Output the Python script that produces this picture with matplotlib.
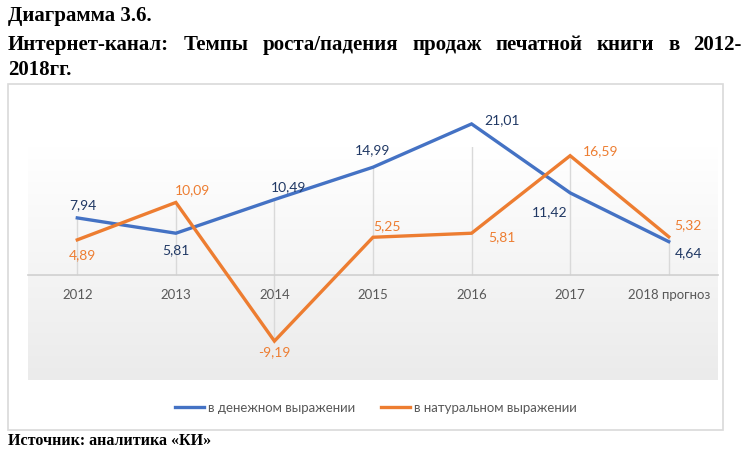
import numpy as np
import matplotlib
matplotlib.use("Agg")
import matplotlib.pyplot as plt
from matplotlib.patches import Rectangle
from matplotlib.colors import LinearSegmentedColormap

# === DATA ===
categories = ["2012", "2013", "2014", "2015", "2016", "2017", "2018 прогноз"]
money = [7.94, 5.81, 10.49, 14.99, 21.01, 11.42, 4.64]
natural = [4.89, 10.09, -9.19, 5.25, 5.81, 16.59, 5.32]
money_name = "в денежном выражении"
natural_name = "в натуральном выражении"

# label offsets (points) for each data label
money_off = [(4, 9), (0, -12), (10, 9), (0, 12), (22, 3), (-15, -14), (14, -8)]
natural_off = [(4, -11), (12, 9), (0, -8), (10, 8), (22, -3), (22, 3), (14, 8)]

BLUE = "#4472c4"
ORANGE = "#ed7d31"
NAVY = "#203864"
GRAY = "#595959"

plt.rcParams["font.family"] = ["Lato", "DejaVu Sans"]

fig = plt.figure(figsize=(7.5, 4.53), dpi=100)
W, H = 750, 453

# chart frame
fig.patches.append(Rectangle((8 / W, 1 - 430 / H), 715 / W, 346 / H,
                             transform=fig.transFigure, fill=False,
                             edgecolor="#d9d9d9", linewidth=1.2))

ax = fig.add_axes([28 / W, 1 - 380 / H, 690 / W, 233 / H])
x = np.arange(len(categories))
ax.set_xlim(-0.5, len(categories) - 0.5)
ax.set_ylim(-14.6, 17.8)

# gradient plot-area background
cmap = LinearSegmentedColormap.from_list("bg", ["#ffffff", "#ebebeb"])
grad = np.linspace(0, 1, 256).reshape(-1, 1)
ax.imshow(grad, cmap=cmap, aspect="auto", extent=[0, 1, 0, 1],
          transform=ax.transAxes, zorder=0, origin="upper")

for s in ["top", "right", "left"]:
    ax.spines[s].set_visible(False)
ax.spines["bottom"].set_position(("data", 0))
ax.spines["bottom"].set_color("#d0d0d0")
ax.spines["bottom"].set_linewidth(1.2)
ax.set_yticks([])
ax.set_xticks(x)
ax.set_xticklabels(categories, color=GRAY, fontsize=9.5)
ax.tick_params(axis="x", length=0, pad=10)

# drop lines
for i in range(len(x)):
    top = max(money[i], natural[i], 0)
    bot = min(money[i], natural[i], 0)
    ax.vlines(x[i], bot, top, color="#d9d9d9", linewidth=1, zorder=1)

ax.plot(x, money, color=BLUE, linewidth=2.4, label=money_name,
        clip_on=False, zorder=3, solid_joinstyle="miter")
ax.plot(x, natural, color=ORANGE, linewidth=2.4, label=natural_name,
        clip_on=False, zorder=3, solid_joinstyle="miter")

for i in range(len(x)):
    ax.annotate(f"{money[i]:.2f}".replace(".", ","), (x[i], money[i]),
                xytext=money_off[i], textcoords="offset points",
                ha="center", va="center", color=NAVY, fontsize=10,
                annotation_clip=False)
    ax.annotate(f"{natural[i]:.2f}".replace(".", ","), (x[i], natural[i]),
                xytext=natural_off[i], textcoords="offset points",
                ha="center", va="center", color=ORANGE, fontsize=10,
                annotation_clip=False)

fig.legend(loc="center", bbox_to_anchor=(376 / W, 1 - 408 / H), ncol=2,
           frameon=False, fontsize=9.5, labelcolor=GRAY, handlelength=2.2,
           handletextpad=0.3, columnspacing=2.0)

serif = ["Liberation Serif", "DejaVu Serif"]
title_kw = dict(family=serif, weight="bold", fontsize=15, va="center", ha="left")
fig.text(8 / W, 1 - 16 / H, "Диаграмма 3.6.", **title_kw)

# justified second title line
line2 = "Интернет-канал: Темпы роста/падения продаж печатной книги в 2012-"
words = line2.split(" ")
renderer = fig.canvas.get_renderer()
tmp = [fig.text(0, 0, w_, **title_kw) for w_ in words]
widths = [t.get_window_extent(renderer).width for t in tmp]
for t in tmp:
    t.remove()
gap = (742 - 8 - sum(widths)) / (len(words) - 1)
xpos = 8
for w_, wd in zip(words, widths):
    fig.text(xpos / W, 1 - 45 / H, w_, **title_kw)
    xpos += wd + gap

fig.text(8 / W, 1 - 70 / H, "2018гг.", **title_kw)
fig.text(8 / W, 1 - 441 / H, "Источник: аналитика «КИ»", family=serif,
         weight="bold", fontsize=11.5, va="center", ha="left")

fig.savefig("out.png", dpi=100)
